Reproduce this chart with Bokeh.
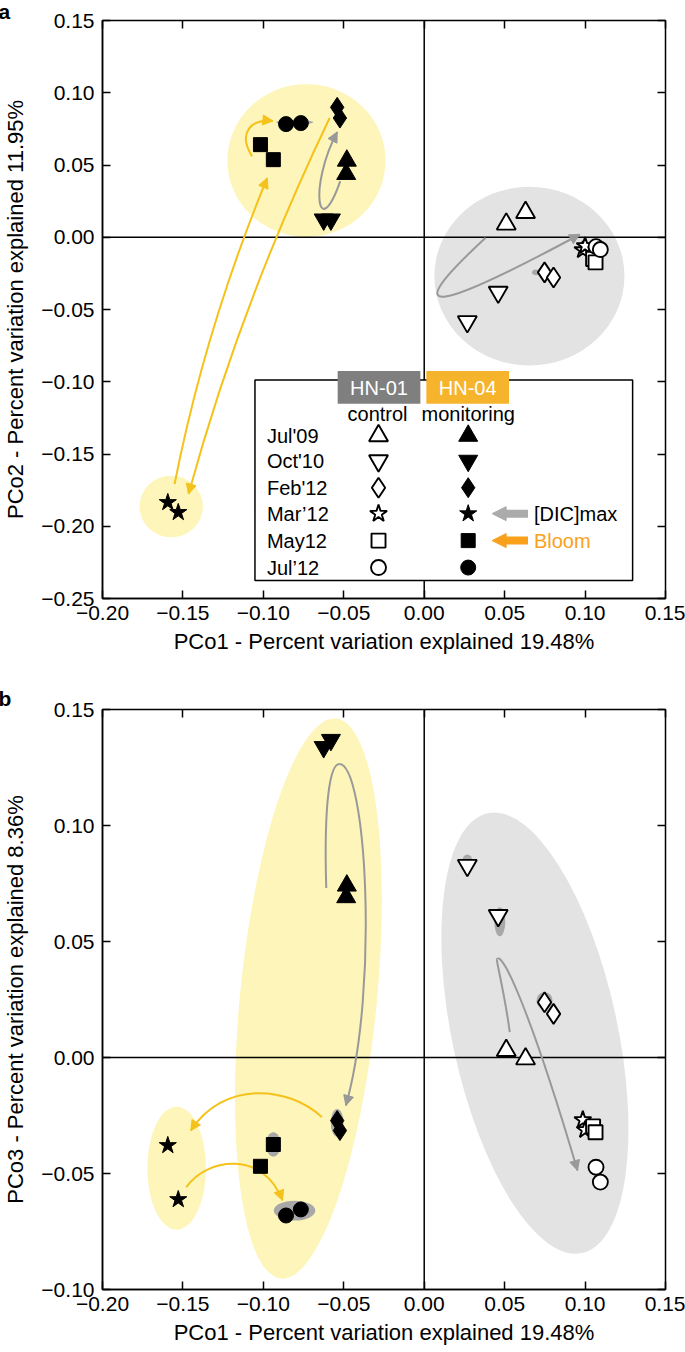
import numpy as np
from bokeh.plotting import figure
from bokeh.models import (Span, Arrow, NormalHead, LinearAxis,
                          FixedTicker, CustomJSTickFormatter)
from bokeh.layouts import column
from bokeh.embed import file_html
from bokeh.resources import INLINE
from bokeh.core.properties import value

FONT = "Liberation Sans"

# ---------------- data ----------------
months = ["Jul'09", "Oct'10", "Feb'12", "Mar\u201912", "May12", "Jul\u201912"]
markers = ["triangle", "inverted_triangle", "diamond", "star", "square", "circle"]

x_ticks = [-0.20, -0.15, -0.10, -0.05, 0.00, 0.05, 0.10, 0.15]
pco2_ticks = [-0.25, -0.20, -0.15, -0.10, -0.05, 0.00, 0.05, 0.10, 0.15]
pco3_ticks = [-0.10, -0.05, 0.00, 0.05, 0.10, 0.15]

# HN-01 (control, open symbols), two replicates per sampling
hn01_pco1 = [[0.0510, 0.0630], [0.0268, 0.0460], [0.0748, 0.0804],
             [0.0986, 0.1000], [0.1050, 0.1065], [0.1068, 0.1095]]
hn01_pco2 = [[0.0091, 0.0171], [-0.0584, -0.0380], [-0.0243, -0.0278],
             [-0.0088, -0.0060], [-0.0150, -0.0174], [-0.0065, -0.0085]]
hn01_pco3 = [[0.0030, -0.0006], [0.0828, 0.0612], [0.0238, 0.0188],
             [-0.0269, -0.0312], [-0.0297, -0.0322], [-0.0473, -0.0537]]

# HN-04 (monitoring, filled symbols)
hn04_pco1 = [[-0.0481, -0.0485], [-0.0625, -0.0580], [-0.0541, -0.0524],
             [-0.1594, -0.1529], [-0.1018, -0.0938], [-0.0859, -0.0767]]
hn04_pco2 = [[0.0530, 0.0438], [0.0123, 0.0123], [0.0899, 0.0825],
             [-0.1835, -0.1904], [0.0641, 0.0537], [0.0783, 0.0790]]
hn04_pco3 = [[0.0741, 0.0691], [0.1338, 0.1369], [-0.0272, -0.0315],
             [-0.0379, -0.0612], [-0.0469, -0.0375], [-0.0681, -0.0655]]

# cluster ellipses (centre, extent in axis units, tilt)
clu_a_x = [-0.0732, 0.0654, -0.1573]
clu_a_y = [0.0531, -0.0269, -0.1863]
clu_a_w = [0.0983, 0.1182, 0.0394]
clu_a_h = [0.1057, 0.1237, 0.0426]
clu_a_site = ["HN-04", "HN-01", "HN-04"]

clu_b_x = [-0.0720, 0.0688, -0.1539]
clu_b_y = [0.0254, 0.0105, -0.0477]
clu_b_w = [0.0851, 0.1028, 0.0365]
clu_b_h = [0.2427, 0.1940, 0.0530]
clu_b_angle = [-0.098, 0.211, 0.0]
clu_b_site = ["HN-04", "HN-01", "HN-04"]

# replicate spread (grey blobs behind symbols)
rep_a_x = [-0.0805, 0.0695]
rep_a_y = [0.0795, -0.0243]
rep_a_w = [0.0230, 0.0050]
rep_a_h = [0.0030, 0.0040]
rep_b_x = [0.0268, 0.0470, 0.0748, -0.0541, -0.0806, -0.0938]
rep_b_y = [0.0850, 0.0585, 0.0245, -0.0282, -0.0660, -0.0375]
rep_b_w = [0.0060, 0.0068, 0.0100, 0.0080, 0.0258, 0.0092]
rep_b_h = [0.0050, 0.0125, 0.0075, 0.0120, 0.0086, 0.0105]

# trajectory arrows as cubic Bezier segments: x0, y0, cx0, cy0, cx1, cy1, x1, y1
traj_a_bloom = [[-0.1070, 0.0560, -0.1160, 0.0720, -0.1080, 0.0820, -0.0941, 0.0805],
                [-0.1552, -0.1708, -0.1426, -0.0997, -0.1236, -0.0293, -0.0976, 0.0410],
                [-0.0588, 0.0825, -0.0960, -0.0040, -0.1253, -0.0910, -0.1465, -0.1777]]
traj_a_dic = [[-0.0522, 0.0388, -0.0660, -0.0050, -0.0720, 0.0350, -0.0541, 0.0728],
              [0.0382, -0.0004, -0.0200, -0.0600, 0.0100, -0.0500, 0.0967, 0.0019]]
traj_b_bloom = [[-0.0636, -0.0257, -0.0850, -0.0120, -0.1250, -0.0100, -0.1451, -0.0315],
                [-0.1479, -0.0559, -0.1350, -0.0430, -0.1000, -0.0400, -0.0881, -0.0616]]
traj_b_dic = [[-0.0609, 0.0731, -0.0625, 0.1100, -0.0585, 0.1265, -0.0528, 0.1265],
              [-0.0528, 0.1265, -0.0360, 0.1265, -0.0280, 0.0300, -0.0487, -0.0207],
              [0.0532, 0.0109, 0.0495, 0.0300, 0.0440, 0.0430, 0.0455, 0.0425],
              [0.0455, 0.0425, 0.0490, 0.0450, 0.0660, 0.0200, 0.0953, -0.0487]]
traj_b_dic_heads = [1, 3]

# ---------------- styles ----------------
YEL_FILL = "#fdf5b9"
GRY_FILL = "#e3e3e3"
YEL_LINE = "#f5c21b"
GRY_LINE = "#999999"
BLOB = "#a8a8a8"
HN01_BOX = "#7f7f7f"
HN04_BOX = "#f6b42c"
BLOOM = "#f9a11b"
DIC = "#ababab"
SIZES = [19, 19, 20, 18, 14, 15]
SITE_FILL = {"HN-04": YEL_FILL, "HN-01": GRY_FILL}
LEG_FS = "20px"


def base_fig(letter, height, y_range, y_ticks, ylabel, b_top, b_bottom, title_standoff):
    p = figure(width=685, height=height, x_range=(-0.20, 0.15), y_range=y_range,
               output_backend="svg", toolbar_location=None,
               min_border_left=100, min_border_right=20,
               min_border_top=b_top, min_border_bottom=b_bottom,
               title=letter, title_location="above",
               x_axis_label="PCo1 - Percent variation explained 19.48%",
               y_axis_label=ylabel)
    p.title.align = "left"
    p.title.offset = -104
    try:
        p.title.standoff = title_standoff
    except Exception:
        p.title.standoff = 0
    p.title.text_font = FONT
    p.title.text_font_size = "21px"
    p.title.text_font_style = "bold"
    p.title.text_color = "black"
    p.xgrid.visible = False
    p.ygrid.visible = False
    p.outline_line_color = "black"
    p.outline_line_width = 1.5
    code = "return (tick < -1e-9 ? '\\u2212' : '') + Math.abs(tick).toFixed(2);"
    p.xaxis.ticker = FixedTicker(ticks=x_ticks)
    p.yaxis.ticker = FixedTicker(ticks=y_ticks)
    p.xaxis.formatter = CustomJSTickFormatter(code=code)
    p.yaxis.formatter = CustomJSTickFormatter(code=code)
    for ax in (p.xaxis[0], p.yaxis[0]):
        ax.major_tick_in = 8
        ax.major_tick_out = 0
        ax.minor_tick_line_color = None
        ax.major_tick_line_width = 1.5
        ax.axis_line_width = 1.5
        ax.major_label_text_font = FONT
        ax.major_label_text_font_size = "21px"
        ax.major_label_text_color = "black"
        ax.axis_label_text_font = FONT
        ax.axis_label_text_font_size = "22px"
        ax.axis_label_text_font_style = "normal"
        ax.axis_label_text_color = "black"
    p.xaxis.major_label_standoff = 7
    p.xaxis.axis_label_standoff = 6
    p.yaxis.major_label_standoff = 8
    p.yaxis.axis_label_standoff = 10
    for loc, ticks in (("above", x_ticks), ("right", y_ticks)):
        ax = LinearAxis(ticker=FixedTicker(ticks=ticks), major_label_text_font_size="0px",
                        major_label_text_color=None,
                        major_label_standoff=0, major_tick_in=8, major_tick_out=0,
                        minor_tick_line_color=None, axis_line_color=None,
                        major_tick_line_width=1.5)
        p.add_layout(ax, loc)
    p.add_layout(Span(location=0, dimension="width", line_color="black",
                      line_width=1.5, level="underlay"))
    p.add_layout(Span(location=0, dimension="height", line_color="black",
                      line_width=1.5, level="underlay"))
    return p


def clusters(p, xs, ys, ws, hs, angles, sites):
    r = p.ellipse(x=xs, y=ys, width=ws, height=hs, angle=angles,
                  fill_color=[SITE_FILL[s] for s in sites], line_color=None)
    r.level = "image"


def blobs(p, xs, ys, ws, hs):
    p.ellipse(x=xs, y=ys, width=ws, height=hs, fill_color=BLOB, line_color=None)


def head(p, seg, color, size=10):
    x0, y0, cx0, cy0, cx1, cy1, x1, y1 = seg
    p.add_layout(Arrow(end=NormalHead(size=size, fill_color=color, line_color=color, line_width=1),
                       x_start=x1 - 0.05 * (x1 - cx1), y_start=y1 - 0.05 * (y1 - cy1),
                       x_end=x1, y_end=y1, line_alpha=0))


def curves(p, segs, color, heads=None):
    s = np.array(segs)
    p.bezier(x0=s[:, 0], y0=s[:, 1], cx0=s[:, 2], cy0=s[:, 3], cx1=s[:, 4], cy1=s[:, 5],
             x1=s[:, 6], y1=s[:, 7], line_color=color, line_width=2)
    idx = range(len(segs)) if heads is None else heads
    for i in idx:
        head(p, segs[i], color)


def points(p, ys01, ys04):
    for i, m in enumerate(markers):
        p.scatter(hn01_pco1[i], ys01[i], marker=m, size=SIZES[i], fill_color="white",
                  line_color="black", line_width=1.9)
        p.scatter(hn04_pco1[i], ys04[i], marker=m, size=SIZES[i], fill_color="black",
                  line_color="black", line_width=1)


# ---------------- panel a ----------------
pa = base_fig("a", 664, (-0.25, 0.15), pco2_ticks,
              "PCo2 - Percent variation explained 11.95%", 19, 66, -5)
clusters(pa, clu_a_x, clu_a_y, clu_a_w, clu_a_h, [0, 0, 0], clu_a_site)
blobs(pa, rep_a_x, rep_a_y, rep_a_w, rep_a_h)
curves(pa, traj_a_bloom, YEL_LINE, heads=[0, 1, 2])
curves(pa, traj_a_dic, GRY_LINE, heads=[0, 1])
points(pa, hn01_pco2, hn04_pco2)


# legend (positions given in frame pixels of panel a)
def LX(px):
    return -0.20 + (px - 100.0) * 0.35 / 565.0


def LY(py):
    return 0.15 - (py - 19.0) * 0.40 / 579.0


rows = [435, 460, 487, 513, 540, 567]
pa.rect(x=[(LX(253) + LX(632)) / 2], y=[(LY(379) + LY(580)) / 2],
        width=[LX(632) - LX(253)], height=[LY(379) - LY(580)],
        fill_color="white", line_color="black", line_width=1.5)
pa.rect(x=[LX(377.5), LX(466.5)], y=[LY(386.5)] * 2,
        width=[LX(419) - LX(336)] * 2, height=[LY(370) - LY(403)] * 2,
        fill_color=[HN01_BOX, HN04_BOX], line_color=None)
pa.text(x=[LX(377.5), LX(466.5)], y=[LY(387)] * 2, text=["HN-01", "HN-04"],
        text_color="white", text_align="center", text_baseline="middle",
        text_font=value(FONT), text_font_size=LEG_FS)
pa.text(x=[LX(376), LX(467)], y=[LY(413)] * 2, text=["control", "monitoring"],
        text_color="black", text_align="center", text_baseline="middle",
        text_font=value(FONT), text_font_size=LEG_FS)
pa.text(x=[LX(265)] * 6, y=[LY(r) for r in rows], text=months,
        text_color="black", text_align="left", text_baseline="middle",
        text_font=value(FONT), text_font_size=LEG_FS)
for i, m in enumerate(markers):
    pa.scatter([LX(377)], [LY(rows[i])], marker=m, size=SIZES[i], fill_color="white",
               line_color="black", line_width=1.9)
    pa.scatter([LX(467)], [LY(rows[i])], marker=m, size=SIZES[i], fill_color="black",
               line_color="black", line_width=1)
for r, c in ((rows[3], DIC), (rows[4], BLOOM)):
    pa.segment(x0=[LX(527)], y0=[LY(r)], x1=[LX(503)], y1=[LY(r)], line_color=c,
               line_width=8)
    pa.add_layout(Arrow(end=NormalHead(size=14, fill_color=c, line_color=c, line_width=1),
                        x_start=LX(496), y_start=LY(r), x_end=LX(491), y_end=LY(r),
                        line_alpha=0))
pa.text(x=[LX(533), LX(533)], y=[LY(rows[3]), LY(rows[4])], text=["[DIC]max", "Bloom"],
        text_color=["black", BLOOM], text_align="left", text_baseline="middle",
        text_font=value(FONT), text_font_size=LEG_FS)

# ---------------- panel b ----------------
pb = base_fig("b", 688, (-0.10, 0.15), pco3_ticks,
              "PCo3 - Percent variation explained 8.36%", 45, 63, 0)
clusters(pb, clu_b_x, clu_b_y, clu_b_w, clu_b_h, clu_b_angle, clu_b_site)
blobs(pb, rep_b_x, rep_b_y, rep_b_w, rep_b_h)
curves(pb, traj_b_bloom, YEL_LINE)
curves(pb, traj_b_dic, GRY_LINE, heads=traj_b_dic_heads)
points(pb, hn01_pco3, hn04_pco3)

layout = column(pa, pb, spacing=0)
open("out.html", "w").write(file_html(layout, INLINE))
